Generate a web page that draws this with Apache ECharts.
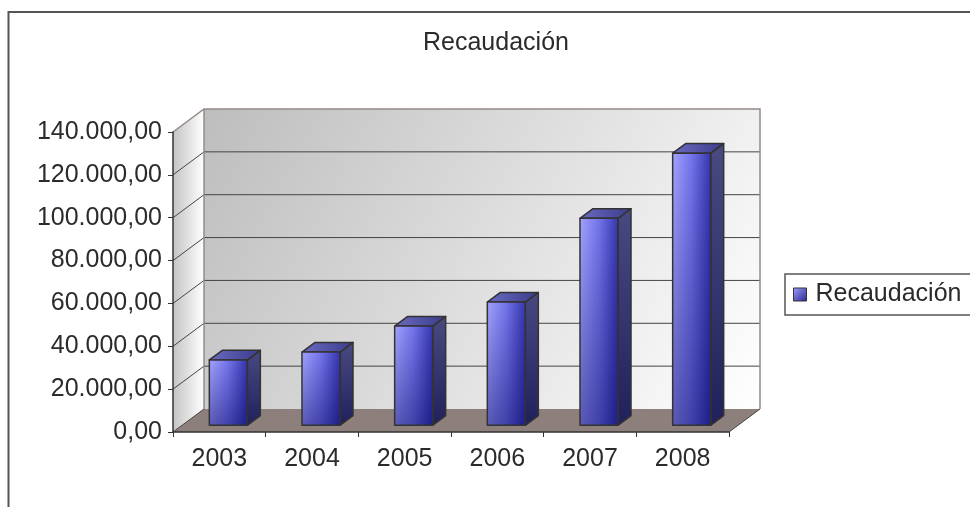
<!DOCTYPE html>
<html>
<head>
<meta charset="utf-8">
<title>Recaudación</title>
<script src="https://cdn.jsdelivr.net/npm/echarts@6/dist/echarts.min.js"></script>
<style>
  html, body { margin: 0; padding: 0; background: #fff; }
  #chart { width: 970px; height: 507px; }
</style>
</head>
<body>
<div id="chart"></div>
<script>
// ---- datos ----
const years = ['2003', '2004', '2005', '2006', '2007', '2008'];
const recaudacion = [30500, 34200, 46300, 57500, 96600, 127000];
const yMin = 0;
const yMax = 140000;
const yStep = 20000;

// ---- estilo ----
const FONT = '"Liberation Sans", Arial, sans-serif';
const FS = 25;
const TXT = '#2b2b2b';
const DX = 31, DY = -23;          // profundidad de la "caja" 3D
const BAR_RATIO = 0.41;           // ancho de barra / ancho de categoría
const F1 = 0.29, F2 = 0.71;       // posición de la barra en la profundidad
const WALL_EDGE = '#958a87';
const GRID_LINE = '#444';
const FLOOR = '#8d807c';

// cara frontal: degradado horizontal + sombra vertical encima
const frontGrad = () => new echarts.graphic.LinearGradient(0, 0, 1, 0, [
  { offset: 0, color: '#a2a2ff' },
  { offset: 0.5, color: '#7474ea' },
  { offset: 1, color: '#3636ae' },
]);
const shadeGrad = () => new echarts.graphic.LinearGradient(0, 0, 0, 1, [
  { offset: 0, color: 'rgba(0,0,90,0)' },
  { offset: 1, color: 'rgba(0,0,90,0.45)' },
]);
const iconGrad = () => new echarts.graphic.LinearGradient(0, 0, 1, 1, [
  { offset: 0, color: '#a2a2ff' },
  { offset: 1, color: '#24248f' },
]);

function fmt(v) {
  const s = Math.round(v).toString().replace(/\B(?=(\d{3})+(?!\d))/g, '.');
  return s + ',00';
}

function renderWalls(params, api) {
  const cs = params.coordSys;
  const L = cs.x, R = cs.x + cs.width, T = cs.y, B = cs.y + cs.height;
  const kids = [];
  // pared lateral
  kids.push({
    type: 'polygon',
    shape: { points: [[L, T], [L + DX, T + DY], [L + DX, B + DY], [L, B]] },
    style: {
      fill: new echarts.graphic.LinearGradient(0, 0, 1, 0, [
        { offset: 0, color: '#c4c4c4' },
        { offset: 1, color: '#ffffff' },
      ]),
      stroke: null,
    },
  });
  // pared del fondo
  kids.push({
    type: 'rect',
    shape: { x: L + DX, y: T + DY, width: cs.width, height: cs.height },
    style: {
      fill: new echarts.graphic.LinearGradient(0, 0, 1, 1, [
        { offset: 0, color: '#bdbdbd' },
        { offset: 1, color: '#ffffff' },
      ]),
      stroke: null,
    },
  });
  // suelo
  kids.push({
    type: 'polygon',
    shape: { points: [[L, B], [R, B], [R + DX, B + DY], [L + DX, B + DY]] },
    style: { fill: FLOOR, stroke: null },
  });
  // líneas de división
  for (let v = yMin + yStep; v < yMax; v += yStep) {
    const y = api.coord([0, v])[1];
    kids.push({ type: 'line', shape: { x1: L, y1: y, x2: L + DX, y2: y + DY },
      style: { stroke: GRID_LINE, lineWidth: 1 } });
    kids.push({ type: 'line', shape: { x1: L + DX, y1: y + DY, x2: R + DX, y2: y + DY },
      style: { stroke: GRID_LINE, lineWidth: 1 } });
  }
  // bordes
  kids.push({ type: 'polyline',
    shape: { points: [[L, T], [L + DX, T + DY], [R + DX, T + DY], [R + DX, B + DY]] },
    style: { stroke: WALL_EDGE, lineWidth: 1.5, fill: null } });
  kids.push({ type: 'line', shape: { x1: L + DX, y1: T + DY, x2: L + DX, y2: B + DY },
    style: { stroke: WALL_EDGE, lineWidth: 1.5 } });
  kids.push({ type: 'line', shape: { x1: L, y1: B, x2: L + DX, y2: B + DY },
    style: { stroke: GRID_LINE, lineWidth: 1 } });
  kids.push({ type: 'line', shape: { x1: R, y1: B, x2: R + DX, y2: B + DY },
    style: { stroke: GRID_LINE, lineWidth: 1 } });
  return { type: 'group', children: kids, silent: true };
}

function renderBar(params, api) {
  const i = api.value(0), v = api.value(1);
  const base = api.coord([i, 0]);
  const top = api.coord([i, v]);
  const bw = api.size([1, 0])[0] * BAR_RATIO;
  const x0 = base[0] - bw / 2 + DX * F1, x1 = x0 + bw;
  const yb = base[1] + DY * F1, yt = top[1] + DY * F1;
  const ddx = DX * (F2 - F1), ddy = DY * (F2 - F1);
  const edge = { stroke: '#333', lineWidth: 1.5, lineJoin: 'round' };
  return {
    type: 'group',
    children: [
      { type: 'polygon',
        shape: { points: [[x1, yt], [x1 + ddx, yt + ddy], [x1 + ddx, yb + ddy], [x1, yb]] },
        style: Object.assign({ fill: new echarts.graphic.LinearGradient(0, 0, 0, 1, [
          { offset: 0, color: '#4a4a82' }, { offset: 1, color: '#20205c' }]) }, edge) },
      { type: 'polygon',
        shape: { points: [[x0, yt], [x0 + ddx, yt + ddy], [x1 + ddx, yt + ddy], [x1, yt]] },
        style: Object.assign({ fill: new echarts.graphic.LinearGradient(0, 0, 1, 0, [
          { offset: 0, color: '#6a6ac0' }, { offset: 1, color: '#3c3c8c' }]) }, edge) },
      { type: 'rect',
        shape: { x: x0, y: yt, width: bw, height: yb - yt },
        style: { fill: frontGrad(), stroke: null } },
      { type: 'rect',
        shape: { x: x0, y: yt, width: bw, height: yb - yt },
        style: Object.assign({ fill: shadeGrad() }, edge) },
    ],
  };
}

const chart = echarts.init(document.getElementById('chart'), null, { renderer: 'canvas' });

chart.setOption({
  backgroundColor: '#fff',
  animation: false,
  textStyle: { fontFamily: FONT },
  title: {
    text: 'Recaudación',
    left: 423, top: 31, padding: 0,
    textStyle: { fontFamily: FONT, fontSize: FS, fontWeight: 'normal', color: TXT },
  },
  legend: {
    data: [{ name: 'Recaudación', icon: 'rect',
      itemStyle: { color: iconGrad(), borderColor: '#333', borderWidth: 1 } }],
    left: 785, top: 274,
    orient: 'vertical',
    padding: [8, 12, 8, 8],
    itemWidth: 13, itemHeight: 13,
    borderColor: '#555', borderWidth: 1.5,
    selectedMode: false,
    textStyle: { fontFamily: FONT, fontSize: FS, color: TXT, padding: [0, 0, 0, 4] },
  },
  graphic: [{
    type: 'rect', silent: true, z: -10,
    shape: { x: 8.5, y: 12, width: 1000, height: 600 },
    style: { fill: null, stroke: '#555', lineWidth: 2 },
  }],
  grid: { left: 173, top: 132, width: 556, height: 300 },
  xAxis: {
    type: 'category',
    data: years,
    axisLine: { lineStyle: { color: '#333', width: 1.5 } },
    axisTick: { show: true, length: 5, lineStyle: { color: '#333' } },
    axisLabel: { fontFamily: FONT, fontSize: FS, color: TXT, margin: 15 },
    z: 5,
  },
  yAxis: {
    type: 'value',
    min: yMin, max: yMax, interval: yStep,
    axisLine: { show: true, lineStyle: { color: '#333', width: 1.5 } },
    axisTick: { show: true, length: 5, lineStyle: { color: '#333' } },
    axisLabel: { fontFamily: FONT, fontSize: FS, color: TXT, margin: 11, formatter: fmt },
    splitLine: { show: false },
    z: 5,
  },
  series: [
    {
      name: 'walls', type: 'custom', z: 1, silent: true,
      renderItem: renderWalls,
      data: [[0, 0]],
      tooltip: { show: false },
    },
    {
      name: 'Recaudación', type: 'custom', z: 3,
      itemStyle: { color: '#8080f0' },
      renderItem: renderBar,
      encode: { x: 0, y: 1 },
      data: recaudacion.map((v, i) => [i, v]),
    },
  ],
});
</script>
</body>
</html>
